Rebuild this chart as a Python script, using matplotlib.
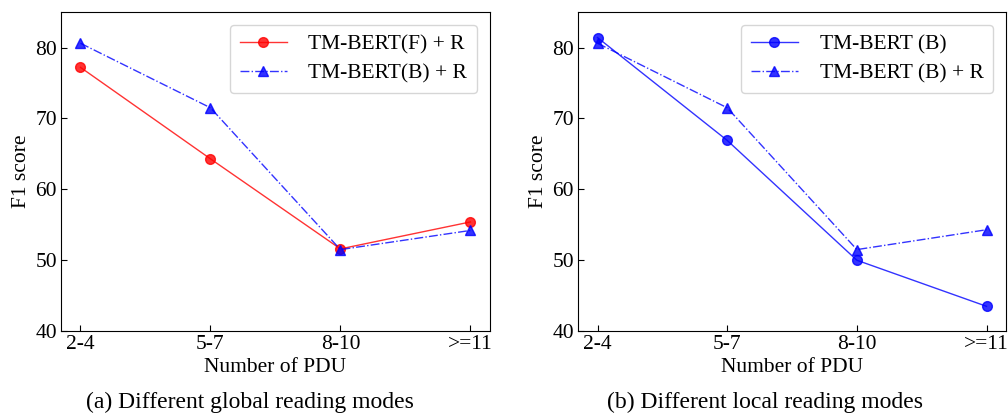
import matplotlib
matplotlib.use("Agg")
import matplotlib.pyplot as plt

plt.rcParams["font.family"] = ["Liberation Serif", "DejaVu Serif"]
plt.rcParams["mathtext.fontset"] = "stix"

# 데이터
pdu_groups = ["2-4", "5-7", "8-10", ">=11"]
global_f_r = [77.2, 64.3, 51.6, 55.4]   # TM-BERT(F) + R
global_b_r = [80.6, 71.5, 51.5, 54.2]   # TM-BERT(B) + R
local_b = [81.4, 66.9, 50.0, 43.5]      # TM-BERT (B)
local_b_r = [80.6, 71.5, 51.5, 54.3]    # TM-BERT (B) + R

yticks = [40, 50, 60, 70, 80]
captions = ["(a) Different global reading modes", "(b) Different local reading modes"]

fig = plt.figure(figsize=(10.08, 4.16), dpi=100)
ax1 = fig.add_axes([0.0605, 0.204, 0.4255, 0.767])
ax2 = fig.add_axes([0.5735, 0.204, 0.4245, 0.767])

x = list(range(len(pdu_groups)))

ax1.plot(x, global_f_r, color="#ff0000", linestyle="-", marker="o",
         markersize=7, linewidth=1.0, label="TM-BERT(F) + R", alpha=0.8)
ax1.plot(x, global_b_r, color="#0000ff", linestyle="-.", marker="^",
         markersize=7, linewidth=1.0, label="TM-BERT(B) + R", alpha=0.8)

ax2.plot(x, local_b, color="#0000ff", linestyle="-", marker="o",
         markersize=7, linewidth=1.0, label="TM-BERT (B)", alpha=0.8)
ax2.plot(x, local_b_r, color="#0000ff", linestyle="-.", marker="^",
         markersize=7, linewidth=1.0, label="TM-BERT (B) + R", alpha=0.8)

for ax, cap, cx in [(ax1, captions[0], 0.248), (ax2, captions[1], 0.759)]:
    ax.set_xlim(-0.15, 3.15)
    ax.set_ylim(40, 85)
    ax.set_xticks(x)
    ax.set_xticklabels(pdu_groups)
    ax.set_yticks(yticks)
    ax.tick_params(direction="in", labelsize=15.5, length=4, pad=3)
    ax.set_xlabel("Number of PDU", fontsize=15.5, labelpad=3)
    ax.set_ylabel("F1 score", fontsize=15.5, labelpad=3)
    ax.legend(loc="upper right", fontsize=15.5, handlelength=2.2,
              handletextpad=1.0, borderpad=0.45, labelspacing=0.4,
              borderaxespad=0.6)
    fig.text(cx, 0.032, cap, ha="center", va="center", fontsize=17)

fig.savefig("out.png", dpi=100)
